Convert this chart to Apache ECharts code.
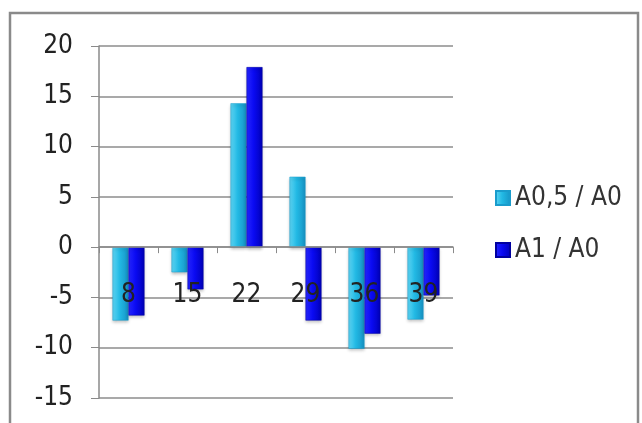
<!DOCTYPE html>
<html>
<head>
<meta charset="utf-8">
<script src="https://cdn.jsdelivr.net/npm/echarts@6/dist/echarts.min.js"></script>
<style>
  html, body { margin: 0; padding: 0; background: #fff; }
  #chart { width: 642px; height: 423px; }
</style>
</head>
<body>
<div id="chart"></div>
<script>
// Measurement days
const categories = ['8', '15', '22', '29', '36', '39'];
// Ratios relative to A0
const seriesNames = ['A0,5 / A0', 'A1 / A0'];
const ratioHalf = [-7.3, -2.5, 14.3, 7.0, -10.1, -7.2];
const ratioOne = [-6.8, -4.2, 17.9, -7.3, -8.6, -4.8];
// Value axis range
const yMin = -15, yMax = 20, yStep = 5;

const FONT = '"Liberation Sans Narrow", "DejaVu Sans Condensed", sans-serif';

function barGradient(light, mid, dark) {
  return new echarts.graphic.LinearGradient(0, 0, 1, 0, [
    { offset: 0, color: light },
    { offset: 0.45, color: mid },
    { offset: 1, color: dark }
  ]);
}

const chart = echarts.init(document.getElementById('chart'), null, { renderer: 'canvas' });

chart.setOption({
  backgroundColor: '#ffffff',
  animation: false,
  graphic: [{
    type: 'rect',
    shape: { x: 10, y: 13, width: 628, height: 430 },
    style: { fill: 'none', stroke: '#8a8a8a', lineWidth: 2.5 },
    z: -1
  }],
  grid: { left: 99, right: 189, top: 46, bottom: 25, containLabel: false, outerBoundsMode: 'none' },
  legend: {
    orient: 'vertical',
    left: 490,
    top: 180,
    itemWidth: 14,
    itemHeight: 14,
    itemGap: 26,
    icon: 'rect',
    textStyle: { fontFamily: FONT, fontSize: 26, color: '#333' },
    data: seriesNames
  },
  xAxis: {
    type: 'category',
    data: categories,
    z: 5,
    axisLine: { onZero: true, lineStyle: { color: '#8a8a8a', width: 1.5 } },
    axisTick: { show: true, alignWithLabel: false, length: 6, lineStyle: { color: '#8a8a8a' } },
    // category names sit just below the zero line, over the negative bars
    axisLabel: { margin: -116, fontFamily: FONT, fontSize: 26, color: '#222' }
  },
  yAxis: {
    type: 'value',
    min: yMin,
    max: yMax,
    interval: yStep,
    axisLine: { show: true, lineStyle: { color: '#8a8a8a', width: 1.5 } },
    axisTick: { show: true, length: 8, lineStyle: { color: '#8a8a8a' } },
    axisLabel: { margin: 26, fontFamily: FONT, fontSize: 26, color: '#222' },
    splitLine: { show: true, lineStyle: { color: '#8c8c8c', width: 1.5 } }
  },
  series: [
    {
      name: seriesNames[0],
      type: 'bar',
      data: ratioHalf,
      barWidth: 16,
      barGap: '0%',
      itemStyle: {
        color: barGradient('#5fd6f4', '#22b9e4', '#1693c4'),
        borderColor: '#1a9ccc',
        borderWidth: 0.5,
        shadowBlur: 3,
        shadowOffsetY: 2,
        shadowColor: 'rgba(0,0,0,0.3)'
      }
    },
    {
      name: seriesNames[1],
      type: 'bar',
      data: ratioOne,
      barWidth: 16,
      barGap: '0%',
      itemStyle: {
        color: barGradient('#2626ff', '#0a0af2', '#0000b8'),
        borderColor: '#0000a0',
        borderWidth: 0.5,
        shadowBlur: 3,
        shadowOffsetY: 2,
        shadowColor: 'rgba(0,0,0,0.3)'
      }
    }
  ]
});
</script>
</body>
</html>
